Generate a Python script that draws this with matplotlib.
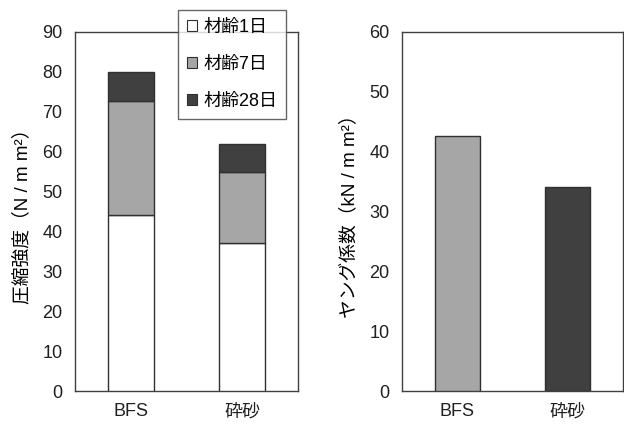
import matplotlib
matplotlib.use("Agg")
import matplotlib.pyplot as plt
from matplotlib.patches import Patch
import numpy as np

plt.rcParams['font.family'] = ['Liberation Sans', 'Noto Sans CJK JP', 'DejaVu Sans']

categories = ['BFS', '砕砂']
ages = ['材齢1日', '材齢7日', '材齢28日']
strength_1d = [44.1, 37.2]
strength_7d = [72.8, 54.8]
strength_28d = [79.9, 61.8]
young = [42.6, 34.1]

c_white = '#ffffff'
c_gray = '#a6a6a6'
c_dark = '#404040'
edge = '#303030'

fig = plt.figure(figsize=(6.24, 4.25), dpi=100)
W, H = 624, 425
ax1 = fig.add_axes([75 / W, 1 - 391 / H, 223 / W, 359 / H])
ax2 = fig.add_axes([402 / W, 1 - 391 / H, 221 / W, 359 / H])

x = np.arange(len(categories))
bw = 0.41
s1 = np.array(strength_1d)
s7 = np.array(strength_7d)
s28 = np.array(strength_28d)
ax1.bar(x, s1, bw, color=c_white, edgecolor=edge, linewidth=1, zorder=3)
ax1.bar(x, s7 - s1, bw, bottom=s1, color=c_gray, edgecolor=edge, linewidth=1, zorder=3)
ax1.bar(x, s28 - s7, bw, bottom=s7, color=c_dark, edgecolor=edge, linewidth=1, zorder=3)
ax1.set_ylim(0, 90)
ax1.set_yticks(range(0, 91, 10))
ax1.set_ylabel('圧縮強度（N / m m²）', fontsize=13.5, labelpad=8)

ax2.bar(x, young, bw, color=[c_gray, c_dark], edgecolor=edge, linewidth=1, zorder=3)
ax2.set_ylim(0, 60)
ax2.set_yticks(range(0, 61, 10))
ax2.set_ylabel('ヤング係数（kN / m m²）', fontsize=13.5, labelpad=8)

for ax in (ax1, ax2):
    ax.set_xlim(-0.5, 1.5)
    ax.set_xticks(x)
    ax.set_xticklabels(categories)
    ax.tick_params(length=0, labelsize=13, pad=9, colors='#202020')
    for s in ax.spines.values():
        s.set_color('#404040')
        s.set_linewidth(1.0)

handles = [Patch(facecolor=c, edgecolor=edge, linewidth=0.8) for c in (c_white, c_gray, c_dark)]
leg = fig.legend(handles, ages, loc='upper left', bbox_to_anchor=(178 / W, 1 - 10 / H),
                 bbox_transform=fig.transFigure, fontsize=13, frameon=True, fancybox=False,
                 handlelength=0.55, handleheight=0.55, handletextpad=0.35, labelspacing=1.1,
                 borderpad=0.5, borderaxespad=0)
leg.get_frame().set_edgecolor('#404040')
leg.get_frame().set_linewidth(1.0)

fig.savefig('out.png', dpi=100)
